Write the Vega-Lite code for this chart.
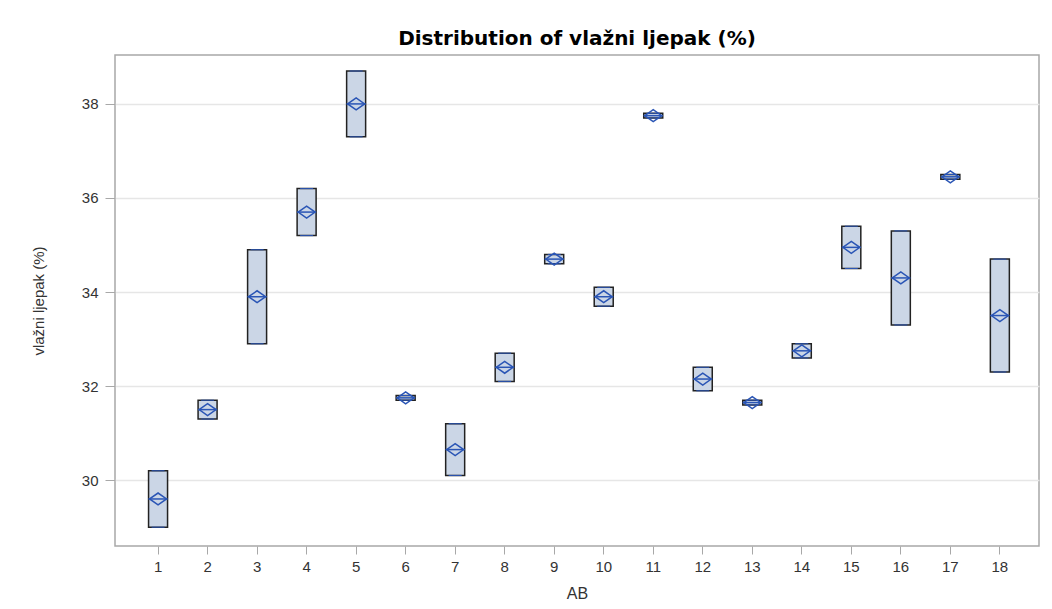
{
  "$schema": "https://vega.github.io/schema/vega-lite/v6.json",
  "autosize": {"type": "none"},
  "width": 924,
  "height": 491,
  "padding": {"left": 115, "top": 55, "right": 13, "bottom": 63},
  "background": "white",
  "title": {
    "text": "Distribution of vlažni ljepak (%)",
    "font": "DejaVu Sans",
    "fontSize": 20,
    "fontWeight": "bold",
    "color": "#000000",
    "anchor": "middle",
    "frame": "group",
    "offset": 6
  },
  "config": {
    "view": {"stroke": "#A8A8A8", "strokeWidth": 1.5},
    "font": "Liberation Sans"
  },
  "data": {
    "values": [
      {"AB": 1, "low": 29.0, "high": 30.2, "mean": 29.6},
      {"AB": 2, "low": 31.3, "high": 31.7, "mean": 31.5},
      {"AB": 3, "low": 32.9, "high": 34.9, "mean": 33.9},
      {"AB": 4, "low": 35.2, "high": 36.2, "mean": 35.7},
      {"AB": 5, "low": 37.3, "high": 38.7, "mean": 38.0},
      {"AB": 6, "low": 31.7, "high": 31.8, "mean": 31.75},
      {"AB": 7, "low": 30.1, "high": 31.2, "mean": 30.65},
      {"AB": 8, "low": 32.1, "high": 32.7, "mean": 32.4},
      {"AB": 9, "low": 34.6, "high": 34.8, "mean": 34.7},
      {"AB": 10, "low": 33.7, "high": 34.1, "mean": 33.9},
      {"AB": 11, "low": 37.7, "high": 37.8, "mean": 37.75},
      {"AB": 12, "low": 31.9, "high": 32.4, "mean": 32.15},
      {"AB": 13, "low": 31.6, "high": 31.7, "mean": 31.65},
      {"AB": 14, "low": 32.6, "high": 32.9, "mean": 32.75},
      {"AB": 15, "low": 34.5, "high": 35.4, "mean": 34.95},
      {"AB": 16, "low": 33.3, "high": 35.3, "mean": 34.3},
      {"AB": 17, "low": 36.4, "high": 36.5, "mean": 36.45},
      {"AB": 18, "low": 32.3, "high": 34.7, "mean": 33.5}
    ]
  },
  "encoding": {
    "x": {
      "field": "AB",
      "type": "ordinal",
      "scale": {"paddingInner": 0, "paddingOuter": 0.33, "align": 0.56},
      "axis": {
        "title": "AB",
        "labelAngle": 0,
        "labelFontSize": 15,
        "labelColor": "#333333",
        "titleFontSize": 16,
        "titleFontWeight": "normal",
        "titleColor": "#333333",
        "titlePadding": 11,
        "domain": false,
        "tickColor": "#A8A8A8",
        "tickSize": 8,
        "labelPadding": 5,
        "grid": false
      }
    }
  },
  "layer": [
    {
      "mark": {"type": "bar", "size": 19, "fill": "#CBD6E6", "stroke": "#222222", "strokeWidth": 1.5},
      "encoding": {
        "y": {
          "field": "low",
          "type": "quantitative",
          "scale": {"domain": [28.6, 39.04], "nice": false, "zero": false},
          "axis": {
            "title": "vlažni ljepak (%)",
            "values": [30, 32, 34, 36, 38],
            "format": "d",
            "labelFontSize": 15,
            "labelColor": "#333333",
            "titleFontSize": 15,
            "titleFontWeight": "normal",
            "titleColor": "#333333",
            "titlePadding": 35,
            "domain": false,
            "tickColor": "#A8A8A8",
            "tickSize": 10,
            "labelPadding": 7,
            "grid": true,
            "gridColor": "#E6E6E6",
            "gridWidth": 1.5
          }
        },
        "y2": {"field": "high"}
      }
    },
    {
      "mark": {"type": "tick", "size": 13, "thickness": 1, "color": "#2A55B5", "opacity": 1},
      "encoding": {"y": {"field": "low", "type": "quantitative"}}
    },
    {
      "mark": {"type": "tick", "size": 13, "thickness": 1, "color": "#2A55B5", "opacity": 1},
      "encoding": {"y": {"field": "high", "type": "quantitative"}}
    },
    {
      "mark": {"type": "tick", "size": 19, "thickness": 1.5, "color": "#2A55B5", "opacity": 1},
      "encoding": {"y": {"field": "mean", "type": "quantitative"}}
    },
    {
      "mark": {
        "type": "point",
        "shape": "M-1,0L0,-0.7L1,0L0,0.7Z",
        "size": 289,
        "filled": false,
        "stroke": "#2A55B5",
        "strokeWidth": 1.5,
        "opacity": 1
      },
      "encoding": {"y": {"field": "mean", "type": "quantitative"}}
    }
  ]
}
